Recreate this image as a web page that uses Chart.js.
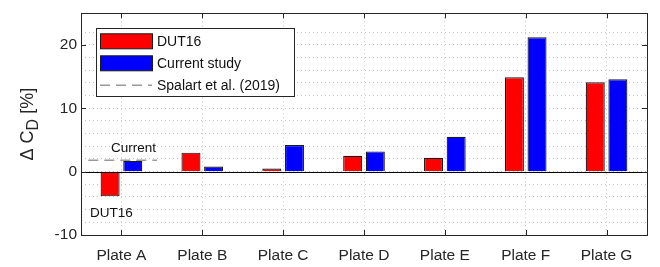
<!DOCTYPE html>
<html>
<head>
<meta charset="utf-8">
<script src="https://cdn.jsdelivr.net/npm/chart.js@4/dist/chart.umd.min.js"></script>
<style>
  html, body { margin: 0; padding: 0; background: #fff; }
  #wrap { width: 660px; height: 267px; }
</style>
</head>
<body>
<div id="wrap"><canvas id="myChart"></canvas></div>
<script>
// data
const plates = ['Plate A', 'Plate B', 'Plate C', 'Plate D', 'Plate E', 'Plate F', 'Plate G'];
const dut16 = [-3.9, 3.0, 0.5, 2.5, 2.2, 14.9, 14.1];
const currentStudy = [1.7, 0.8, 4.2, 3.2, 5.5, 21.2, 14.6];
// Spalart et al. (2019) reference value, drawn across Plate A only
const spalartLabel = 'Spalart et al. (2019)';
const spalartX = [-0.41, 0.44];
const spalartY = 1.8;
const yTickLabels = [-10, 0, 10, 20];

const axisColor = '#262626';
const fontFamily = 'Arial, "Liberation Sans", Helvetica, sans-serif';
const spalartColor = '#9a9a9a';
const spalartDash = [10, 6];

/**
 * 枠・ゼロ線・目盛り・注記・凡例
 */
const decorations = {
  id: 'decorations',
  afterDatasetsDraw(chart) {
    const ctx = chart.ctx;
    const x = chart.scales.x, y = chart.scales.y;
    // Spalart et al. reference line (category units around Plate A)
    const step = x.getPixelForValue(1) - x.getPixelForValue(0);
    ctx.save();
    ctx.strokeStyle = spalartColor;
    ctx.lineWidth = 1.6;
    ctx.setLineDash(spalartDash);
    const py = y.getPixelForValue(spalartY);
    ctx.beginPath();
    ctx.moveTo(x.getPixelForValue(0) + spalartX[0] * step, py);
    ctx.lineTo(x.getPixelForValue(0) + spalartX[1] * step, py);
    ctx.stroke();
    ctx.restore();
  },
  afterDraw(chart) {
    const ctx = chart.ctx;
    const a = chart.chartArea;
    const x = chart.scales.x, y = chart.scales.y;
    ctx.save();

    // baseline at 0
    ctx.strokeStyle = '#000';
    ctx.lineWidth = 1;
    const y0 = Math.round(y.getPixelForValue(0)) + 0.5;
    ctx.beginPath();
    ctx.moveTo(a.left, y0);
    ctx.lineTo(a.right, y0);
    ctx.stroke();

    // box
    ctx.strokeStyle = axisColor;
    ctx.strokeRect(Math.round(a.left) + 0.5, Math.round(a.top) + 0.5,
      Math.round(a.right - a.left), Math.round(a.bottom - a.top));

    // inward ticks on all four sides
    const tl = 5;
    ctx.beginPath();
    plates.forEach(function(p, i) {
      const px = Math.round(x.getPixelForValue(i)) + 0.5;
      ctx.moveTo(px, a.bottom); ctx.lineTo(px, a.bottom - tl);
      ctx.moveTo(px, a.top); ctx.lineTo(px, a.top + tl);
    });
    yTickLabels.forEach(function(v) {
      const py = Math.round(y.getPixelForValue(v)) + 0.5;
      ctx.moveTo(a.left, py); ctx.lineTo(a.left + tl, py);
      ctx.moveTo(a.right, py); ctx.lineTo(a.right - tl, py);
    });
    ctx.stroke();

    // annotations
    ctx.fillStyle = '#111';
    ctx.font = '13.5px ' + fontFamily;
    ctx.textAlign = 'center';
    ctx.textBaseline = 'middle';
    ctx.fillText('Current', x.getPixelForValue(0) + 12, y.getPixelForValue(3.7));
    ctx.fillText('DUT16', x.getPixelForValue(0) - 10, y.getPixelForValue(-6.5));

    // legend (upper left inside the axes)
    const ds = chart.data.datasets;
    const items = [
      { text: ds[0].label, fill: ds[0].backgroundColor },
      { text: ds[1].label, fill: ds[1].backgroundColor },
      { text: spalartLabel, line: true }
    ];
    const lx = a.left + 15, ly = a.top + 15;
    const lw = 198, lh = 68;
    ctx.fillStyle = '#fff';
    ctx.fillRect(lx, ly, lw, lh);
    ctx.strokeStyle = axisColor;
    ctx.lineWidth = 1;
    ctx.strokeRect(Math.round(lx) + 0.5, Math.round(ly) + 0.5, lw, lh);
    ctx.font = '14px ' + fontFamily;
    ctx.textAlign = 'left';
    ctx.textBaseline = 'middle';
    items.forEach(function(it, i) {
      const cy = ly + 13 + i * 22;
      if (it.line) {
        ctx.save();
        ctx.strokeStyle = spalartColor;
        ctx.lineWidth = 1.6;
        ctx.setLineDash(spalartDash);
        ctx.beginPath();
        ctx.moveTo(lx + 4, cy);
        ctx.lineTo(lx + 56, cy);
        ctx.stroke();
        ctx.restore();
      } else {
        ctx.fillStyle = it.fill;
        ctx.fillRect(lx + 4.5, cy - 7.5, 52, 15);
        ctx.strokeStyle = '#1a1a1a';
        ctx.strokeRect(lx + 4.5, cy - 7.5, 52, 15);
      }
      ctx.fillStyle = '#111';
      ctx.fillText(it.text, lx + 61, cy + 0.5);
    });

    // y axis title with subscript
    const cy = (a.top + a.bottom) / 2;
    ctx.translate(27, cy);
    ctx.rotate(-Math.PI / 2);
    ctx.fillStyle = axisColor;
    ctx.textAlign = 'left';
    ctx.textBaseline = 'alphabetic';
    const big = '18px ' + fontFamily, small = '16px ' + fontFamily;
    ctx.font = big;
    const w1 = ctx.measureText('\u0394 C').width;
    const w3 = ctx.measureText(' [%]').width;
    ctx.font = small;
    const w2 = ctx.measureText('D').width;
    let sx = -(w1 + w2 + w3) / 2;
    ctx.font = big;
    ctx.fillText('\u0394 C', sx, 6);
    sx += w1;
    ctx.font = small;
    ctx.fillText('D', sx, 11);
    sx += w2;
    ctx.font = big;
    ctx.fillText(' [%]', sx, 6);

    ctx.restore();
  }
};

new Chart(document.getElementById('myChart').getContext('2d'), {
  type: 'bar',
  data: {
    labels: plates,
    datasets: [
      {
        label: 'DUT16',
        data: dut16,
        backgroundColor: '#ff0000',
        borderColor: '#1a1a1a',
        borderWidth: 1.2,
        categoryPercentage: 0.56,
        barPercentage: 0.84
      },
      {
        label: 'Current study',
        data: currentStudy,
        backgroundColor: '#0000ff',
        borderColor: '#1a1a1a',
        borderWidth: 1.2,
        categoryPercentage: 0.56,
        barPercentage: 0.84
      }
    ]
  },
  plugins: [decorations],
  options: {
    responsive: true,
    maintainAspectRatio: false,
    animation: false,
    layout: { padding: { top: 8, right: 13, left: 0, bottom: 0 } },
    scales: {
      x: {
        offset: true,
        grid: { offset: false, color: '#c4c4c4', lineWidth: 1, drawTicks: false },
        border: { display: false, dash: [1, 3] },
        ticks: { color: axisColor, font: { family: fontFamily, size: 15.5 }, padding: 11, maxRotation: 0 },
        afterFit: function(s) { s.height = 32; }
      },
      y: {
        min: -10,
        max: 25,
        grid: { color: '#c4c4c4', lineWidth: 1, drawTicks: false },
        border: { display: false, dash: [1, 3] },
        ticks: {
          stepSize: 2,
          color: axisColor,
          font: { family: fontFamily, size: 15.5 },
          padding: 4,
          autoSkip: false,
          callback: function(v) { return yTickLabels.indexOf(v) >= 0 ? String(v) : ''; }
        },
        afterFit: function(s) { s.width = 81; }
      }
    },
    plugins: {
      legend: { display: false },
      tooltip: { enabled: false }
    }
  }
});
</script>
</body>
</html>
